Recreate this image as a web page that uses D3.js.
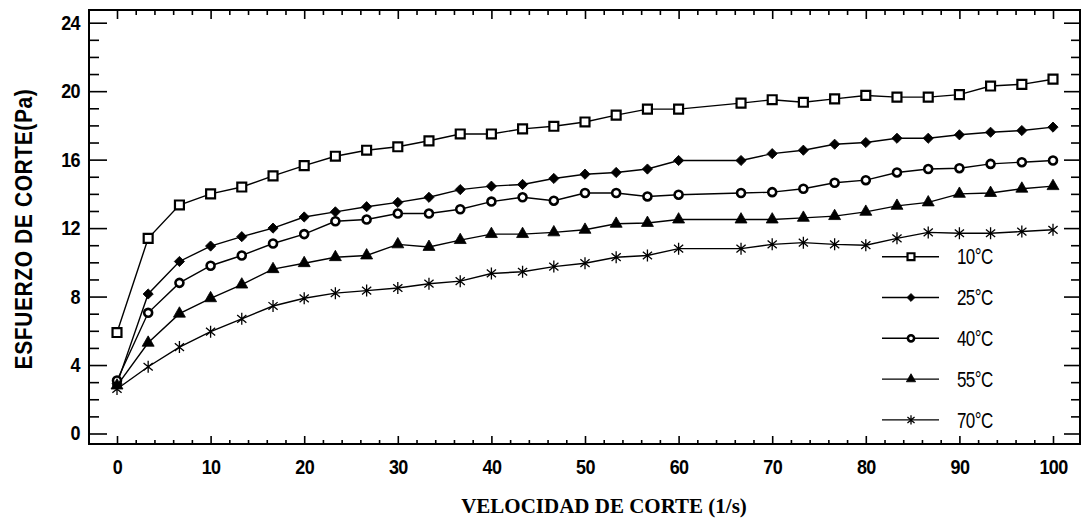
<!DOCTYPE html>
<html>
<head>
<meta charset="utf-8">
<script src="https://cdn.jsdelivr.net/npm/d3@7"></script>
<style>
  body { margin: 0; background: #fff; }
  svg { display: block; }
  text { fill: #000; }
</style>
</head>
<body>
<div id="chart"></div>
<script>
var width = 1081, height = 522;

// velocidad de corte (1/s)
var shearRate = [0, 3.33, 6.67, 10, 13.33, 16.67, 20, 23.33, 26.67, 30, 33.33, 36.67, 40, 43.33, 46.67,
                 50, 53.33, 56.67, 60, 66.67, 70, 73.33, 76.67, 80, 83.33, 86.67, 90, 93.33, 96.67, 100];

// esfuerzo de corte (Pa) por temperatura
var t10 = [5.9, 11.4, 13.35, 14.0, 14.4, 15.05, 15.65, 16.2, 16.55, 16.75, 17.1, 17.5, 17.5, 17.8, 17.95,
           18.2, 18.6, 18.95, 18.95, 19.3, 19.5, 19.35, 19.55, 19.75, 19.65, 19.65, 19.8, 20.3, 20.4, 20.7];
var t25 = [2.9, 8.15, 10.05, 10.95, 11.5, 12.0, 12.65, 12.95, 13.25, 13.5, 13.8, 14.25, 14.45, 14.55, 14.9,
           15.15, 15.25, 15.45, 15.95, 15.95, 16.35, 16.55, 16.9, 17.0, 17.25, 17.25, 17.45, 17.6, 17.7, 17.9];
var t40 = [3.1, 7.05, 8.8, 9.8, 10.4, 11.1, 11.65, 12.4, 12.5, 12.85, 12.85, 13.1, 13.55, 13.8, 13.6,
           14.05, 14.05, 13.85, 13.95, 14.05, 14.1, 14.3, 14.65, 14.8, 15.25, 15.45, 15.5, 15.75, 15.85, 15.95];
var t55 = [2.8, 5.3, 7.0, 7.9, 8.7, 9.6, 9.95, 10.3, 10.4, 11.05, 10.9, 11.3, 11.65, 11.65, 11.75,
           11.9, 12.25, 12.3, 12.5, 12.5, 12.5, 12.6, 12.7, 12.95, 13.3, 13.5, 14.0, 14.05, 14.3, 14.45];
var t70 = [2.6, 3.9, 5.05, 5.95, 6.7, 7.45, 7.9, 8.2, 8.35, 8.5, 8.75, 8.9, 9.35, 9.45, 9.75,
           9.95, 10.3, 10.4, 10.8, 10.8, 11.05, 11.15, 11.05, 11.0, 11.4, 11.75, 11.7, 11.7, 11.8, 11.9];

var seriesNames = ["10°C", "25°C", "40°C", "55°C", "70°C"];
var seriesValues = [t10, t25, t40, t55, t70];
var seriesMarkers = ["square", "diamond", "circle", "triangle", "star"];

var xTicks = [0, 10, 20, 30, 40, 50, 60, 70, 80, 90, 100];
var yTicks = [0, 4, 8, 12, 16, 20, 24];

var xLabel = "VELOCIDAD DE CORTE (1/s)";
var yLabel = "ESFUERZO DE CORTE(Pa)";

// frame of the plot (pixels)
var frame = {left: 89, top: 10, right: 1080, bottom: 444};

var x = d3.scaleLinear().domain([0, 100]).range([117, 1053]);
var y = d3.scaleLinear().domain([0, 24]).range([433.5, 22.7]);

var svg = d3.select("#chart").append("svg")
    .attr("width", width)
    .attr("height", height);

// marker shapes
function markerPath(type, s) {
  if (type == "square") return d3.symbol(d3.symbolSquare, 80 * s)();
  if (type == "diamond") return d3.symbol(d3.symbolSquare, 52 * s)();
  if (type == "circle") return d3.symbol(d3.symbolCircle, 50 * s)();
  if (type == "triangle") return d3.symbol(d3.symbolTriangle, 62 * s)();
  var r = 6 * Math.sqrt(s), p = d3.path();
  [90, 40, 140].forEach(function(a) {
    var dx = r * Math.cos(a * Math.PI / 180), dy = r * Math.sin(a * Math.PI / 180);
    p.moveTo(-dx, -dy); p.lineTo(dx, dy);
  });
  return p.toString();
}

function drawMarker(sel, type, s) {
  sel.attr("d", markerPath(type, s))
     .attr("transform", function(d) {
        var t = "translate(" + d.cx + "," + d.cy + ")";
        return type == "diamond" ? t + " rotate(45)" : t;
     });
  if (type == "square" || type == "circle") {
    sel.attr("fill", "#fff").attr("stroke", "#000").attr("stroke-width", type == "circle" ? 2.6 : 2.2);
  } else if (type == "star") {
    sel.attr("fill", "none").attr("stroke", "#000").attr("stroke-width", 1.3);
  } else {
    sel.attr("fill", "#000").attr("stroke", "#000").attr("stroke-width", 0.8);
  }
}

// axes (ticks pointing inward)
function cleanAxis(g) { g.select(".domain").remove(); g.selectAll("line").attr("stroke-width", 1.6); }

var xMinor = d3.range(0, 101, 2).filter(function(v) { return v % 10 != 0; });
var yMinor = d3.range(0, 25, 1).filter(function(v) { return v % 4 != 0; });

svg.append("g").attr("transform", "translate(0," + frame.bottom + ")")
    .call(d3.axisBottom(x).tickValues(xMinor).tickSize(-4).tickFormat("")).call(cleanAxis);
var xAxis = svg.append("g").attr("transform", "translate(0," + frame.bottom + ")")
    .call(d3.axisBottom(x).tickValues(xTicks).tickSize(-8).tickPadding(14)).call(cleanAxis);
svg.append("g").attr("transform", "translate(0," + frame.top + ")")
    .call(d3.axisTop(x).tickValues(xMinor).tickSize(-5).tickFormat("")).call(cleanAxis);
svg.append("g").attr("transform", "translate(0," + frame.top + ")")
    .call(d3.axisTop(x).tickValues(xTicks).tickSize(-9).tickFormat("")).call(cleanAxis);

svg.append("g").attr("transform", "translate(" + frame.left + ",0)")
    .call(d3.axisLeft(y).tickValues(yMinor).tickSize(-10).tickFormat("")).call(cleanAxis);
var yAxis = svg.append("g").attr("transform", "translate(" + frame.left + ",0)")
    .call(d3.axisLeft(y).tickValues(yTicks).tickSize(-18).tickPadding(9)).call(cleanAxis);
svg.append("g").attr("transform", "translate(" + frame.right + ",0)")
    .call(d3.axisRight(y).tickValues(yMinor).tickSize(-9).tickFormat("")).call(cleanAxis);
svg.append("g").attr("transform", "translate(" + frame.right + ",0)")
    .call(d3.axisRight(y).tickValues(yTicks).tickSize(-16).tickFormat("")).call(cleanAxis);

[xAxis, yAxis].forEach(function(a) {
  a.selectAll("text")
    .attr("font-family", "'Liberation Sans', Arial, sans-serif")
    .attr("font-size", 18)
    .attr("font-weight", "bold")
    .attr("letter-spacing", -0.6)
    .attr("transform", "scale(1,1.12)");
});

// frame
svg.append("rect")
    .attr("x", frame.left).attr("y", frame.top)
    .attr("width", frame.right - frame.left).attr("height", frame.bottom - frame.top)
    .attr("fill", "none").attr("stroke", "#000").attr("stroke-width", 2);

// series
var line = d3.line().x(function(d) { return d.cx; }).y(function(d) { return d.cy; });

seriesValues.forEach(function(vals, i) {
  var pts = vals.map(function(v, j) { return {cx: x(shearRate[j]), cy: y(v)}; });
  svg.append("path").datum(pts)
      .attr("d", line)
      .attr("fill", "none").attr("stroke", "#000").attr("stroke-width", 1.4);
  svg.append("g").selectAll("path").data(pts).enter().append("path")
      .call(drawMarker, seriesMarkers[i], 1);
});

// legend
var legend = svg.append("g");
seriesNames.forEach(function(name, i) {
  var ly = 256.7 + i * 40.8;
  legend.append("line").attr("x1", 882).attr("x2", 939).attr("y1", ly).attr("y2", ly)
      .attr("stroke", "#000").attr("stroke-width", 1.4);
  legend.append("path").datum({cx: 911, cy: ly}).call(drawMarker, seriesMarkers[i], 0.6);
  legend.append("g").attr("transform", "translate(957," + ly + ") scale(1,1.25)")
    .append("text")
      .attr("dy", "0.36em")
      .attr("font-family", "'Liberation Sans', Arial, sans-serif")
      .attr("font-size", 17)
      .attr("letter-spacing", -0.6)
      .text(name);
});

// axis titles
svg.append("text")
    .attr("x", 604).attr("y", 513)
    .attr("text-anchor", "middle")
    .attr("font-family", "'Liberation Serif', 'Times New Roman', serif")
    .attr("font-weight", "bold")
    .attr("font-size", 21)
    .text(xLabel);

svg.append("g").attr("transform", "translate(31.5,229) rotate(-90) scale(1,1.12)")
  .append("text")
    .attr("text-anchor", "middle")
    .attr("font-family", "'Liberation Sans', Arial, sans-serif")
    .attr("font-weight", "bold")
    .attr("font-size", 21)
    .attr("letter-spacing", 0.6)
    .text(yLabel);
</script>
</body>
</html>
